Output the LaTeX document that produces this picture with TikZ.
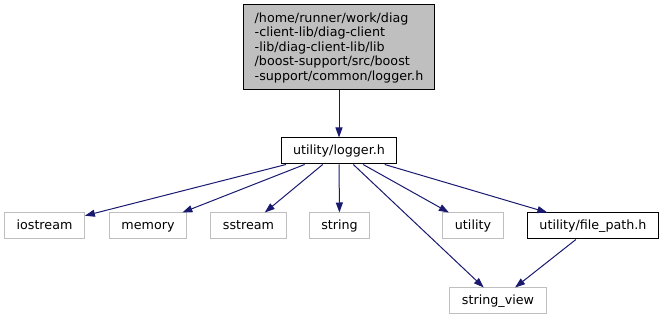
\documentclass[tikz,border=0pt]{standalone}
\usepackage{fontspec}
\setmainfont{DejaVu Sans}
\usetikzlibrary{arrows.meta,positioning}

\definecolor{edgeblue}{HTML}{191970}
\definecolor{boxgray}{HTML}{BFBFBF}

\begin{document}
\begin{tikzpicture}
[
	              x = 1pt,
	              y = -1pt,
	           ->, >= {Triangle[length=10pt, width=7pt]},
	           font = \fontsize{12.7}{14.5}\selectfont,
	   every edge/.style = { draw=edgeblue, line width=1pt },
	   header/.style = { draw=black, line width=1pt, minimum height=26pt, inner xsep=12pt, inner ysep=0pt,
	                     text height=9.5pt, text depth=3pt },
	   extern/.style = { header, draw=boxgray },
	     main/.style = { draw=black, line width=1pt, fill=boxgray, align=left, minimum height=85pt, inner xsep=11pt }
]
	\useasboundingbox (0,0) rectangle (665,320);

	% nodes
	\node (logger_src) at (339,47.5) [main]
		{/home/runner/work/diag\\-client-lib/diag-client\\-lib/diag-client-lib/lib\\/boost-support/src/boost\\-support/common/logger.h};
	\node (logger)      at (339,151)  [header] {utility/logger.h};
	\node (iostream)    at (44.5,226) [extern] {iostream};
	\node (memory)      at (148,226)  [extern] {memory};
	\node (sstream)     at (248.5,226)[extern] {sstream};
	\node (string)      at (339.5,226)[extern] {string};
	\node (utility)     at (473,226)  [extern] {utility};
	\node (file_path)   at (593,226)  [header] {utility/file\_path.h};
	\node (string_view) at (498,301)  [extern] {string\_view};

	% edges
	\draw (logger_src) edge (logger);
	\draw (logger) edge (iostream) (logger) edge (memory) (logger) edge (sstream)
	      (logger) edge (string) (logger) edge (string_view) (logger) edge (utility)
	      (logger) edge (file_path);
	\draw (file_path) edge (string_view);
\end{tikzpicture}
\end{document}
